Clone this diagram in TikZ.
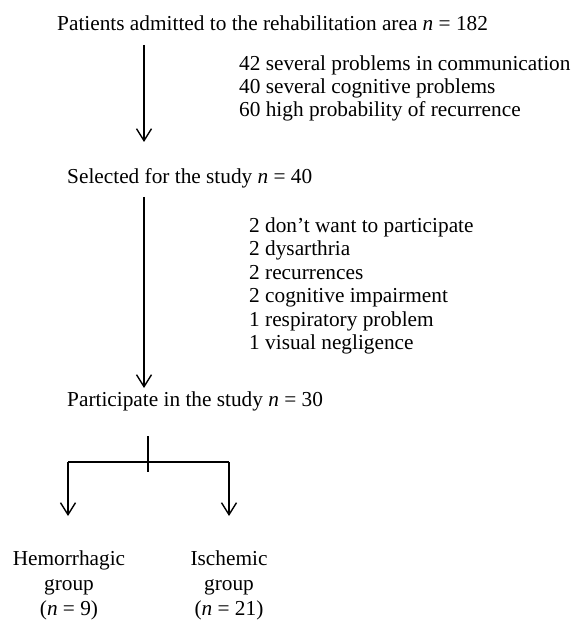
\documentclass[tikz,border=0pt]{standalone}
\usepackage{fontspec}
\setmainfont{Liberation Serif}
\usetikzlibrary{arrows.meta}
\tikzset{
  txt/.style={inner sep=0pt, anchor=base west, font=\fontsize{21.3}{23}\selectfont},
  ctxt/.style={inner sep=0pt, anchor=base, font=\fontsize{21.3}{23}\selectfont},
  flow/.style={line width=1.4pt, -{Straight Barb[length=12pt, width=15pt, line width=1.4pt]}},
  tick/.style={line width=2.6pt},
}
\begin{document}
\begin{tikzpicture}[x=1pt,y=-1pt]
\useasboundingbox (0,0) rectangle (572,620);
\node[txt] (t1) at (57,31) {Patients admitted to the rehabilitation area \textit{n} = 182};
\node[txt] (r1a) at (239,71) {42 several problems in communication};
\node[txt] (r1b) at (239,94) {40 several cognitive problems};
\node[txt] (r1c) at (239,117) {60 high probability of recurrence};
\node[txt] (t2) at (67,184) {Selected for the study \textit{n} = 40};
\node[txt] (r2a) at (249,232) {2 don’t want to participate};
\node[txt] (r2b) at (249,255.5) {2 dysarthria};
\node[txt] (r2c) at (249,279) {2 recurrences};
\node[txt] (r2d) at (249,302.5) {2 cognitive impairment};
\node[txt] (r2e) at (249,326) {1 respiratory problem};
\node[txt] (r2f) at (249,349.5) {1 visual negligence};
\node[txt] (t3) at (67,406) {Participate in the study \textit{n} = 30};
\coordinate (a1s) at (144,45);
\coordinate (a1e) at (144,142);
\coordinate (a2s) at (144,197);
\coordinate (a2e) at (144,388);
\draw[flow] (a1s) -- (a1e);
\draw[flow] (a2s) -- (a2e);
\coordinate (tk1) at (148,436);
\coordinate (tk2) at (148,472);
\coordinate (bl) at (68,462);
\coordinate (br) at (229,462);
\coordinate (ble) at (68,516);
\coordinate (bre) at (229,516);
\draw[tick] (tk1) -- (tk2);
\draw[line width=1.4pt] (bl) -- (br);
\draw[flow] (bl) -- (ble);
\draw[flow] (br) -- (bre);
\node[ctxt] (g1a) at (69,565) {Hemorrhagic};
\node[ctxt] (g1b) at (69,590.5) {group};
\node[ctxt] (g1c) at (69,615) {(\textit{n} = 9)};
\node[ctxt] (g2a) at (229,565) {Ischemic};
\node[ctxt] (g2b) at (229,590.5) {group};
\node[ctxt] (g2c) at (229,615) {(\textit{n} = 21)};
\end{tikzpicture}
\end{document}
